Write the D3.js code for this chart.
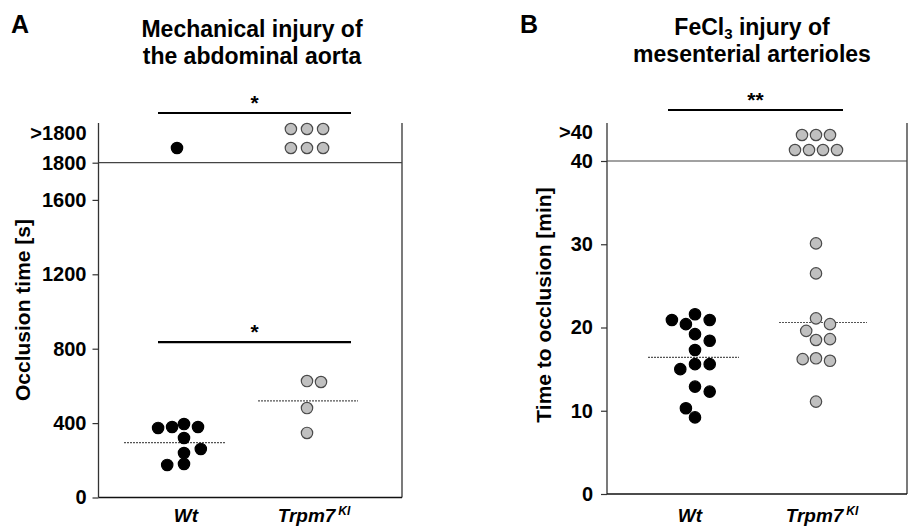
<!DOCTYPE html>
<html>
<head>
  <script src="https://d3js.org/d3.v7.min.js"></script>
  <style>
    body { margin: 0; background: #fff; }
    svg text { font-family: "Liberation Sans", Arial, sans-serif; font-weight: bold; fill: #000; }
  </style>
</head>
<body>
<div id="chart"></div>
<script>
// groups on the x axis
var groups = ["Wt", "Trpm7"];

// panel A - mechanical injury of the abdominal aorta, occlusion time [s]
var aWtValues = [374, 379, 395, 379, 320, 261, 239, 175, 180];
var aWtSlots  = [-3.7, -1.7, 0, 2, 0, 2.4, 0, -2.4, 0];
var aKiValues = [626, 621, 481, 347];
var aKiSlots  = [0, 2, 0, 0];
var aMeans    = [295, 520];
var aTicks    = [0, 400, 800, 1200, 1600, 1800];
// vessels that did not occlude (>1800 s): group, row, slot
var aCensored = [
  { g: "Wt", row: 0, slot: -1 },
  { g: "Trpm7", row: 0, slot: -2.3 }, { g: "Trpm7", row: 0, slot: 0 }, { g: "Trpm7", row: 0, slot: 2.3 },
  { g: "Trpm7", row: 1, slot: -2.3 }, { g: "Trpm7", row: 1, slot: 0 }, { g: "Trpm7", row: 1, slot: 2.3 }
];

// panel B - FeCl3 injury of mesenterial arterioles, time to occlusion [min]
var bWtValues = [20.9, 20.4, 21.6, 20.9, 19.2, 18.4, 17.3, 15.0, 15.6, 15.6, 12.9, 12.3, 10.3, 9.2];
var bWtSlots  = [-3.3, -1.3, 0, 2.1, 0, 2.1, 0, -2.1, 0, 2.1, 0, 2.1, -1.3, 0];
var bKiValues = [21.1, 20.4, 19.6, 18.5, 18.6, 16.2, 16.3, 16.0, 11.1, 30.1, 26.5];
var bKiSlots  = [0, 2, -1.4, 0, 2, -1.9, 0, 2, 0, 0, 0];
var bMeans    = [16.4, 20.6];
var bTicks    = [0, 10, 20, 30, 40];
var bCensored = [
  { g: "Trpm7", row: 0, slot: -3 }, { g: "Trpm7", row: 0, slot: -1 }, { g: "Trpm7", row: 0, slot: 1 }, { g: "Trpm7", row: 0, slot: 3 },
  { g: "Trpm7", row: 1, slot: -2 }, { g: "Trpm7", row: 1, slot: 0 }, { g: "Trpm7", row: 1, slot: 2 }
];

var svg = d3.select("#chart").append("svg")
  .attr("width", 908)
  .attr("height", 528);

var slotStep = 7; // px between swarm slots
var fills = { Wt: "#000", Trpm7: "#c0c0c0" };
var strokes = { Wt: "#000", Trpm7: "#4a4a4a" };

function drawPanel(p) {
  var g = svg.append("g");

  var x = d3.scalePoint().domain(groups).range(p.xRange);
  var y = d3.scaleLinear().domain([0, p.max]).range(p.yRange);
  var rowY = d3.scaleLinear().domain([0, 1]).range(p.rowRange);

  // frame: left axis, bottom, right border, cap line at max
  g.append("line").attr("x1", p.left).attr("x2", p.left).attr("y1", p.top).attr("y2", y(0))
    .attr("stroke", "#333").attr("stroke-width", 1.3);
  g.append("line").attr("x1", p.right).attr("x2", p.right).attr("y1", p.top).attr("y2", y(0))
    .attr("stroke", "#333").attr("stroke-width", 1.3);
  g.append("line").attr("x1", p.left).attr("x2", p.right).attr("y1", y(0)).attr("y2", y(0))
    .attr("stroke", "#111").attr("stroke-width", 1.3);
  g.append("line").attr("x1", p.left).attr("x2", p.right).attr("y1", y(p.max)).attr("y2", y(p.max))
    .attr("stroke", "#444").attr("stroke-width", 1.2);

  var axis = g.append("g")
    .attr("transform", "translate(" + p.left + ",0)")
    .call(d3.axisLeft(y).tickValues(p.ticks).tickSize(6).tickPadding(p.pad).tickFormat(d3.format("d")));
  axis.select(".domain").remove();
  axis.selectAll("line").attr("stroke", "#333").attr("stroke-width", 1.2);
  axis.selectAll("text").style("font-size", "20px").attr("fill", "#000");

  g.append("text")
    .attr("x", p.left - 6 - p.pad).attr("y", p.capY)
    .attr("text-anchor", "end").attr("dy", "0.35em")
    .style("font-size", "20px")
    .text(">" + p.max);

  // y axis title
  g.append("text")
    .attr("transform", "translate(" + p.yTitleX + "," + p.yTitleY + ") rotate(-90)")
    .attr("text-anchor", "middle")
    .style("font-size", "21px")
    .text(p.yTitle);

  // x labels
  groups.forEach(function(gr) {
    var t = g.append("text")
      .attr("x", x(gr) + p.labelShift[gr]).attr("y", 522)
      .attr("text-anchor", "middle")
      .style("font-size", "19px").style("font-style", "italic");
    t.append("tspan").text(gr);
    if (gr === "Trpm7") {
      t.append("tspan").attr("dx", 3).attr("dy", -7).style("font-size", "12px").text("KI");
    }
  });

  // mean lines
  groups.forEach(function(gr, i) {
    g.append("line")
      .attr("x1", x(gr) + p.meanExt[gr][0]).attr("x2", x(gr) + p.meanExt[gr][1])
      .attr("y1", y(p.means[i])).attr("y2", y(p.means[i]))
      .attr("stroke", "#555").attr("stroke-width", 1.2)
      .attr("stroke-dasharray", "2,1");
  });

  // dots
  var pts = [];
  p.values.Wt.forEach(function(v, i) { pts.push({ g: "Wt", v: v, slot: p.slots.Wt[i] }); });
  p.values.Trpm7.forEach(function(v, i) { pts.push({ g: "Trpm7", v: v, slot: p.slots.Trpm7[i] }); });

  g.selectAll("circle.pt").data(pts).enter().append("circle")
    .attr("class", "pt")
    .attr("cx", function(d) { return x(d.g) + d.slot * slotStep; })
    .attr("cy", function(d) { return y(d.v); })
    .attr("r", 5.7)
    .attr("fill", function(d) { return fills[d.g]; })
    .attr("stroke", function(d) { return strokes[d.g]; })
    .attr("stroke-width", 1.2);

  g.selectAll("circle.cens").data(p.censored).enter().append("circle")
    .attr("class", "cens")
    .attr("cx", function(d) { return x(d.g) + d.slot * slotStep; })
    .attr("cy", function(d) { return rowY(d.row); })
    .attr("r", 5.7)
    .attr("fill", function(d) { return fills[d.g]; })
    .attr("stroke", function(d) { return strokes[d.g]; })
    .attr("stroke-width", 1.2);

  // significance bars
  p.sig.forEach(function(s) {
    var yy = s.value != null ? y(s.value) : s.y;
    g.append("line")
      .attr("x1", x("Wt") + s.from).attr("x2", x("Trpm7") + s.to)
      .attr("y1", yy).attr("y2", yy)
      .attr("stroke", "#000").attr("stroke-width", 2.2);
    g.append("text")
      .attr("x", (x("Wt") + s.from + x("Trpm7") + s.to) / 2).attr("y", yy - 3)
      .attr("text-anchor", "middle")
      .style("font-size", "21px")
      .text(s.label);
  });

  // panel letter and title
  g.append("text").attr("x", p.letterX).attr("y", 33).style("font-size", "25px").text(p.letter);
  p.title.forEach(function(line, i) {
    var t = g.append("text")
      .attr("x", p.titleX).attr("y", p.titleY + i * 27)
      .attr("text-anchor", "middle")
      .style("font-size", "23px");
    line.forEach(function(part) {
      var s = t.append("tspan").text(part.t);
      if (part.sub) s.attr("dy", 4).style("font-size", "15px");
      if (part.back) s.attr("dy", -4);
    });
  });
}

drawPanel({
  letter: "A", letterX: 11,
  title: [[{ t: "Mechanical injury of" }], [{ t: "the abdominal aorta" }]],
  titleX: 252, titleY: 37,
  left: 98.5, right: 402, top: 123,
  max: 1800, yRange: [497.5, 162.7], rowRange: [148, 129], capY: 133,
  ticks: aTicks, pad: 6,
  xRange: [184, 307],
  yTitle: "Occlusion time [s]", yTitleX: 30, yTitleY: 310,
  labelShift: { Wt: 2, Trpm7: 7 },
  values: { Wt: aWtValues, Trpm7: aKiValues },
  slots: { Wt: aWtSlots, Trpm7: aKiSlots },
  means: aMeans,
  meanExt: { Wt: [-60, 42], Trpm7: [-49, 51] },
  censored: aCensored,
  sig: [{ y: 113, from: -26, to: 44, label: "*" }, { value: 835, from: -26, to: 44, label: "*" }]
});

drawPanel({
  letter: "B", letterX: 520,
  title: [[{ t: "FeCl" }, { t: "3", sub: true }, { t: " injury of", back: true }], [{ t: "mesenterial arterioles" }]],
  titleX: 752, titleY: 35,
  left: 607, right: 907, top: 123,
  max: 40, yRange: [494, 161], rowRange: [150, 135], capY: 132,
  ticks: bTicks, pad: 8,
  xRange: [695, 816],
  yTitle: "Time to occlusion [min]", yTitleX: 551, yTitleY: 305,
  labelShift: { Wt: -5, Trpm7: 6 },
  values: { Wt: bWtValues, Trpm7: bKiValues },
  slots: { Wt: bWtSlots, Trpm7: bKiSlots },
  means: bMeans,
  meanExt: { Wt: [-47, 44], Trpm7: [-37, 51] },
  censored: bCensored,
  sig: [{ y: 110, from: -27, to: 27, label: "**" }]
});
</script>
</body>
</html>
